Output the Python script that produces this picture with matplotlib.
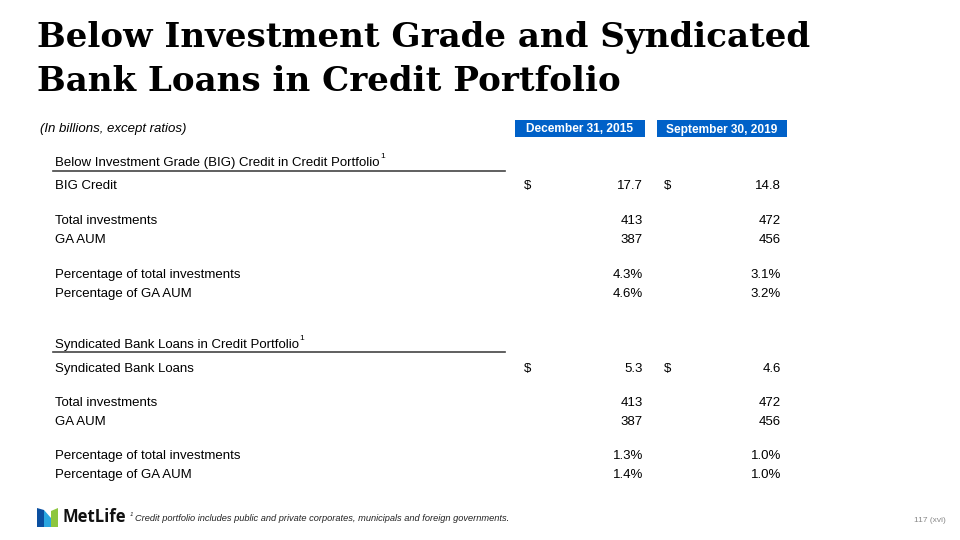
import matplotlib
matplotlib.use("Agg")
import matplotlib.pyplot as plt
from matplotlib.patches import Rectangle, Polygon

title_lines = ["Below Investment Grade and Syndicated", "Bank Loans in Credit Portfolio"]
col_headers = ["December 31, 2015", "September 30, 2019"]
units_note = "(In billions, except ratios)"

sec1_title = "Below Investment Grade (BIG) Credit in Credit Portfolio"
sec1_labels = ["BIG Credit", "Total investments", "GA AUM",
               "Percentage of total investments", "Percentage of GA AUM"]
sec1_2015 = ["17.7", "413", "387", "4.3%", "4.6%"]
sec1_2019 = ["14.8", "472", "456", "3.1%", "3.2%"]

sec2_title = "Syndicated Bank Loans in Credit Portfolio"
sec2_labels = ["Syndicated Bank Loans", "Total investments", "GA AUM",
               "Percentage of total investments", "Percentage of GA AUM"]
sec2_2015 = ["5.3", "413", "387", "1.3%", "1.4%"]
sec2_2019 = ["4.6", "472", "456", "1.0%", "1.0%"]

footnote = "Credit portfolio includes public and private corporates, municipals and foreign governments."
page_no = "117 (xvi)"

fig = plt.figure(figsize=(9.6, 5.4), dpi=100)
ax = fig.add_axes([0, 0, 1, 1])
ax.set_xlim(0, 960)
ax.set_ylim(540, 0)
ax.axis("off")

SANS = "Liberation Sans"
BLUE = "#0061C8"

# Title
for y, line in zip([47, 91], title_lines):
    ax.text(37, y, line, fontsize=24.6, fontweight="bold",
            family="DejaVu Serif", va="baseline", ha="left", color="black")

ax.text(40, 129, units_note, fontsize=9.5, style="italic", family=SANS, va="center")

# Column header boxes
box_x = [515, 657]
box_w = 130
for bx, h in zip(box_x, col_headers):
    ax.add_patch(Rectangle((bx, 120), box_w, 17, color=BLUE, lw=0))
    ax.text(bx + box_w / 2, 132.5, h, fontsize=8.6, fontweight="bold", color="white",
            family=SANS, ha="center", va="baseline")

dollar_x = [524, 664]
val_x = [643, 781]
label_x = 55
FS = 9.5


def section(y_title, y_line, title, labels, v1, v2, rows_y):
    t = ax.text(label_x, y_title, title, fontsize=FS, family=SANS, va="center")
    fig.canvas.draw()
    bb = t.get_window_extent()
    inv = ax.transData.inverted()
    xend = inv.transform((bb.x1, bb.y0))[0]
    ax.text(xend + 0.5, y_title - 6, "1", fontsize=6, family=SANS, va="center")
    ax.plot([53, 505], [y_line, y_line], color="#444444", lw=1.2)
    for i, (lab, a, b, y) in enumerate(zip(labels, v1, v2, rows_y)):
        ax.text(label_x, y, lab, fontsize=FS, family=SANS, va="center")
        if i == 0:
            ax.text(dollar_x[0], y, "$", fontsize=FS, family=SANS, va="center")
            ax.text(dollar_x[1], y, "$", fontsize=FS, family=SANS, va="center")
        ax.text(val_x[0], y, a, fontsize=FS, family=SANS, va="center", ha="right")
        ax.text(val_x[1], y, b, fontsize=FS, family=SANS, va="center", ha="right")


section(163, 171, sec1_title, sec1_labels, sec1_2015, sec1_2019, [186, 221, 240, 275, 294])
section(345, 352, sec2_title, sec2_labels, sec2_2015, sec2_2019, [369, 403, 422, 456, 475])

# Logo
ax.add_patch(Polygon([(37, 508), (44, 510), (44, 527), (37, 527)], closed=True, color="#0A4FA0", lw=0))
ax.add_patch(Polygon([(44, 510), (51, 518), (51, 527), (44, 527)], closed=True, color="#2AA6E0", lw=0))
ax.add_patch(Polygon([(51, 518), (51, 511), (58, 508), (58, 527), (51, 527)], closed=True, color="#8DC63F", lw=0))
ax.text(62, 517.5, "MetLife", fontsize=12, fontweight="bold", family="Open Sans", va="center", color="#111111")

ax.text(130, 515, "1", fontsize=4.5, style="italic", family=SANS, va="center", color="#222222")
ax.text(135, 518.5, footnote, fontsize=6.7, style="italic", family=SANS, va="center", color="#222222")
ax.text(946, 521, page_no, fontsize=6, family=SANS, va="center", ha="right", color="#888888")

fig.savefig("out.png", dpi=100)
